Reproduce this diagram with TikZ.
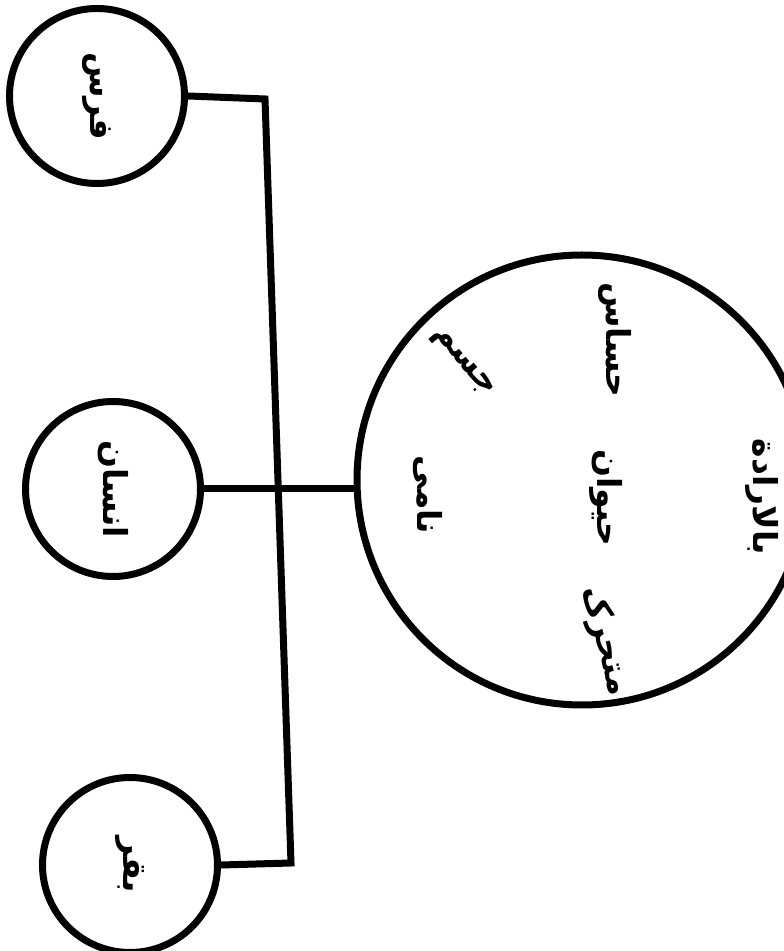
\documentclass[tikz,border=0pt]{standalone}
\usepackage{fontspec}
\newfontfamily\arabicfont[Script=Arabic]{DejaVu Sans}
\TeXXeTstate=1
\begin{document}
\begin{tikzpicture}[x=1pt, y=1pt, line width=7pt,
    smallring/.style={circle, draw, minimum size=175pt, inner sep=0pt},
    bigring/.style={circle, draw, minimum size=450pt, inner sep=0pt},
    word/.style={font=\fontsize{33}{38}\selectfont\arabicfont\bfseries, rotate=-90, inner sep=0pt}]
    % Page frame
    \useasboundingbox (0,0) rectangle (784,951);

    % Draw the circles
    \node[smallring] (topring) at (97,855) {};
    \node[smallring] (midring) at (113,462) {};
    \node[smallring] (botring) at (130,86) {};
    \node[bigring] (bigring) at (582,471) {};

    % Words in the small circles
    \node[word] (topword) at (topring) {\beginR فرس\endR};
    \node[word] (midword) at (midring) {\beginR انسان\endR};
    \node[word] (botword) at (botring) {\beginR بقر\endR};

    % Words in the big circle
    \node[word] (centreword) at (606,453) {\beginR حیوان\endR};
    \node[word] (leftword) at (428,456) {\beginR نامی\endR};
    \node[word, rotate=40] (upleftword) at (462,588) {\beginR جسم\endR};
    \node[word] (upmidword) at (615,611) {\beginR حساس\endR};
    \node[word, rotate=15] (lowword) at (605,310) {\beginR متحرک\endR};
    \node[word] (rightword) at (762,454) {\beginR بالارادة\endR};

    % Connect the circles
    \coordinate (topbend) at (265,852);
    \coordinate (botbend) at (291,88);
    \draw (topring.east) -- (topbend) -- (botbend) -- (botring.east);
    \draw (midring.east) -- (bigring.west |- midring.east);
\end{tikzpicture}
\end{document}
